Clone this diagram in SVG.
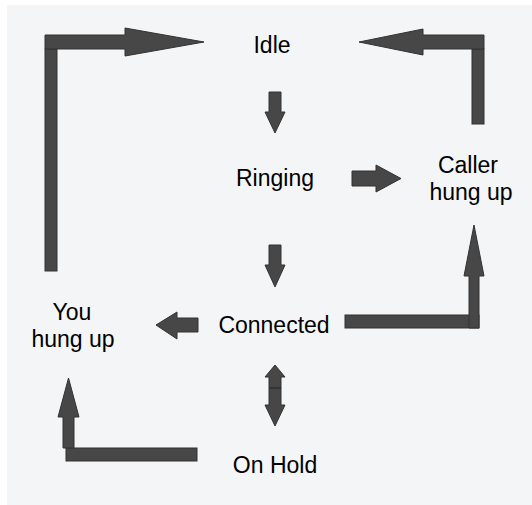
<svg xmlns="http://www.w3.org/2000/svg" width="532" height="505" viewBox="0 0 532 505">
<style>
  .lbl { font-family: "Liberation Sans", Arial, sans-serif; font-size: 23px; fill: #000; text-anchor: middle; }
  .ar { fill: #474747; stroke: #333; stroke-width: 1; stroke-linejoin: miter; }
</style>
<rect x="0" y="0" width="532" height="505" fill="#ffffff"/>
<rect x="7" y="5" width="525" height="500" fill="#f4f5f7"/>

<g id="connectors">
  <!-- You hung up -> Idle -->
  <rect class="ar" x="45" y="49" width="12" height="222"/>
  <polygon class="ar" points="45,35 125,35 125,28 204,42 125,56 125,49 45,49"/>
  <!-- Caller hung up -> Idle -->
  <rect class="ar" x="472" y="49" width="12" height="75"/>
  <polygon class="ar" points="484,35 423,35 423,29 359,42 423,55 423,49 484,49"/>
  <!-- Idle -> Ringing -->
  <polygon class="ar" points="269,92 281,92 281,112 285,112 275,133 265,112 269,112"/>
  <!-- Ringing -> Caller hung up -->
  <polygon class="ar" points="352,171 376,171 376,165 401,178.5 376,192 376,186 352,186"/>
  <!-- Ringing -> Connected -->
  <polygon class="ar" points="269,245 281,245 281,265 285,265 275,287 265,265 269,265"/>
  <!-- Connected -> Caller hung up -->
  <rect class="ar" x="345" y="315" width="134" height="13"/>
  <polygon class="ar" points="469,328 469,276 464,276 474,225 484,276 479,276 479,328"/>
  <!-- Connected -> You hung up -->
  <polygon class="ar" points="198,318 177,318 177,312 156,325 177,339 177,332 198,332"/>
  <!-- Connected <-> On Hold -->
  <polygon class="ar" points="275,365 285,377 281,377 281,405 285,405 275,426 265,405 269,405 269,377 265,377"/>
  <line x1="269" y1="388" x2="281" y2="388" stroke="#222" stroke-width="1"/>
  <!-- On Hold -> You hung up -->
  <rect class="ar" x="66" y="448" width="131" height="13"/>
  <polygon class="ar" points="63,448 63,417 58,417 68.5,378 79,417 74,417 74,448"/>
</g>

<g id="node-idle"><text class="lbl" x="272" y="53">Idle</text></g>
<g id="node-ringing"><text class="lbl" x="275" y="186">Ringing</text></g>
<g id="node-caller-hung-up">
  <text class="lbl" x="468" y="173">Caller</text>
  <text class="lbl" x="471" y="200">hung up</text>
</g>
<g id="node-connected"><text class="lbl" x="274" y="333">Connected</text></g>
<g id="node-you-hung-up">
  <text class="lbl" x="72" y="320">You</text>
  <text class="lbl" x="73" y="347">hung up</text>
</g>
<g id="node-on-hold"><text class="lbl" x="275" y="473">On Hold</text></g>
</svg>
